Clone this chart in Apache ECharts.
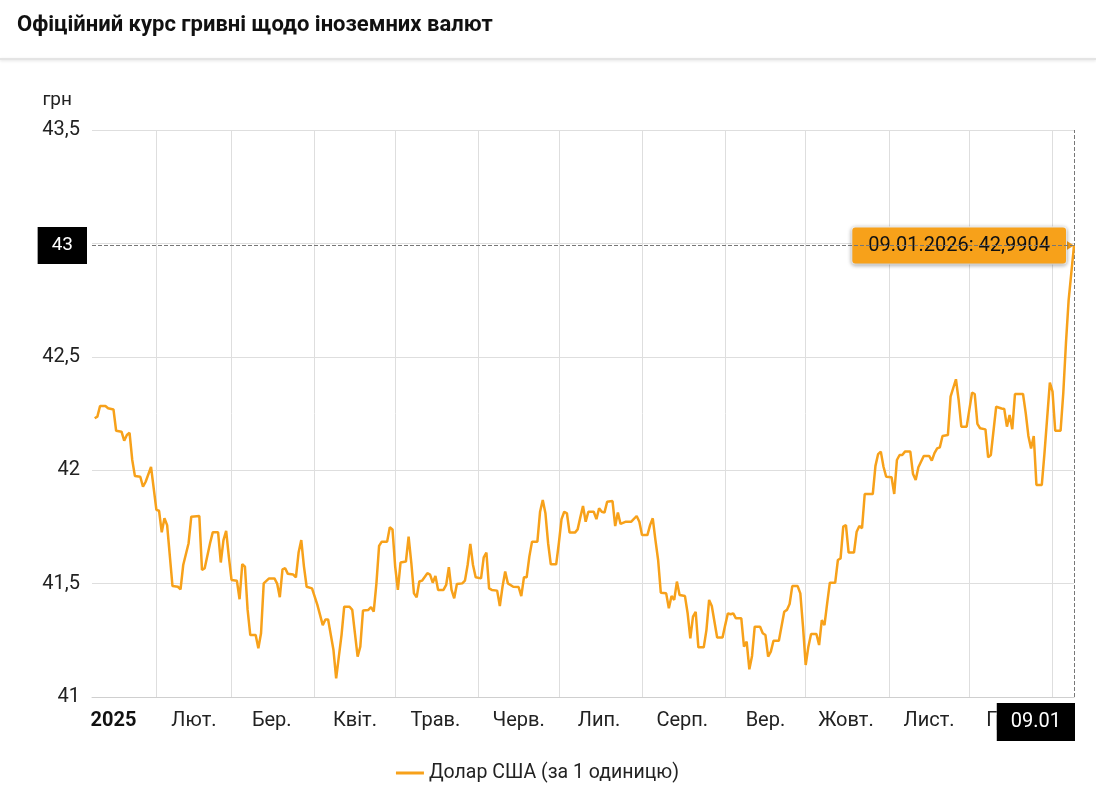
<!DOCTYPE html>
<html><head><meta charset="utf-8">
<script src="https://cdn.jsdelivr.net/npm/echarts@6/dist/echarts.min.js"></script>
<style>
html,body{margin:0;padding:0;background:#fff;}
#sep{position:absolute;left:0;top:58px;width:1096px;height:2px;background:#e4e4e4;box-shadow:0 1px 3px rgba(0,0,0,0.12);}
#chart{position:absolute;left:0;top:0;width:1075px;height:796px;}
</style></head><body>
<div id="sep"></div>
<div id="chart"></div>
<script>
const titleText = 'Офіційний курс гривні щодо іноземних валют';
const seriesName = 'Долар США (за 1 одиницю)';
const unitName = 'грн';
const xMin = '2025-01-08';
const xMax = '2026-01-09';
const yMin = 41, yMax = 43.5, yStep = 0.5;
const monthLabels = ['2025','Лют.','Бер.','Квіт.','Трав.','Черв.','Лип.','Серп.','Вер.','Жовт.','Лист.','Груд.'];
const labelDays = ['2025-01-16','2025-02-15','2025-03-16','2025-04-16','2025-05-16','2025-06-16','2025-07-16','2025-08-16','2025-09-16','2025-10-16','2025-11-16','2025-12-16'];
const monthStarts = ['2025-02-01','2025-03-01','2025-04-01','2025-05-01','2025-06-01','2025-07-01','2025-08-01','2025-09-01','2025-10-01','2025-11-01','2025-12-01','2026-01-01'];

const dates = [
'2025-01-09','2025-01-10','2025-01-11','2025-01-13','2025-01-14','2025-01-16','2025-01-17','2025-01-19','2025-01-20','2025-01-21','2025-01-22','2025-01-23','2025-01-24','2025-01-26','2025-01-27','2025-01-28','2025-01-30',
'2025-02-01','2025-02-02','2025-02-03','2025-02-04','2025-02-05','2025-02-07','2025-02-09','2025-02-10','2025-02-11','2025-02-13','2025-02-14','2025-02-17','2025-02-18','2025-02-19','2025-02-21','2025-02-22','2025-02-24','2025-02-25','2025-02-26','2025-02-27','2025-02-28',
'2025-03-01','2025-03-03','2025-03-04','2025-03-05','2025-03-06','2025-03-07','2025-03-08','2025-03-10','2025-03-11','2025-03-12','2025-03-13','2025-03-15','2025-03-17','2025-03-18','2025-03-19','2025-03-20','2025-03-21','2025-03-22','2025-03-24','2025-03-25','2025-03-26','2025-03-27','2025-03-28','2025-03-29','2025-03-31',
'2025-04-02','2025-04-04','2025-04-05','2025-04-06','2025-04-08','2025-04-09','2025-04-10','2025-04-11','2025-04-12','2025-04-14','2025-04-15','2025-04-16','2025-04-17','2025-04-18','2025-04-19','2025-04-21','2025-04-22','2025-04-23','2025-04-24','2025-04-25','2025-04-26','2025-04-28','2025-04-29','2025-04-30',
'2025-05-01','2025-05-02','2025-05-03','2025-05-05','2025-05-06','2025-05-07','2025-05-08','2025-05-09','2025-05-10','2025-05-11','2025-05-13','2025-05-14','2025-05-15','2025-05-16','2025-05-17','2025-05-19','2025-05-20','2025-05-21','2025-05-22','2025-05-23','2025-05-24','2025-05-26','2025-05-27','2025-05-28','2025-05-29','2025-05-30','2025-05-31',
'2025-06-02','2025-06-03','2025-06-04','2025-06-05','2025-06-06','2025-06-08','2025-06-09','2025-06-10','2025-06-11','2025-06-12','2025-06-14','2025-06-16','2025-06-17','2025-06-18','2025-06-19','2025-06-20','2025-06-21','2025-06-23','2025-06-24','2025-06-25','2025-06-26','2025-06-27','2025-06-28','2025-06-30',
'2025-07-01','2025-07-02','2025-07-03','2025-07-04','2025-07-05','2025-07-07','2025-07-08','2025-07-09','2025-07-10','2025-07-11','2025-07-12','2025-07-14','2025-07-15','2025-07-16','2025-07-17','2025-07-18','2025-07-19','2025-07-21','2025-07-22','2025-07-23','2025-07-24','2025-07-26','2025-07-28','2025-07-30','2025-07-31',
'2025-08-01','2025-08-03','2025-08-04','2025-08-05','2025-08-06','2025-08-07','2025-08-08','2025-08-10','2025-08-11','2025-08-12','2025-08-13','2025-08-14','2025-08-15','2025-08-17','2025-08-18','2025-08-19','2025-08-20','2025-08-21','2025-08-22','2025-08-24','2025-08-25','2025-08-26','2025-08-27','2025-08-29','2025-08-31',
'2025-09-01','2025-09-02','2025-09-03','2025-09-04','2025-09-05','2025-09-07','2025-09-08','2025-09-09','2025-09-10','2025-09-11','2025-09-12','2025-09-14','2025-09-15','2025-09-16','2025-09-17','2025-09-18','2025-09-19','2025-09-21','2025-09-23','2025-09-24','2025-09-25','2025-09-26','2025-09-28','2025-09-29','2025-09-30',
'2025-10-01','2025-10-02','2025-10-03','2025-10-05','2025-10-06','2025-10-07','2025-10-08','2025-10-09','2025-10-10','2025-10-12','2025-10-13','2025-10-14','2025-10-15','2025-10-16','2025-10-17','2025-10-19','2025-10-20','2025-10-21','2025-10-22','2025-10-23','2025-10-26','2025-10-27','2025-10-28','2025-10-29','2025-10-30','2025-10-31',
'2025-11-02','2025-11-03','2025-11-04','2025-11-05','2025-11-06','2025-11-07','2025-11-09','2025-11-10','2025-11-11','2025-11-12','2025-11-14','2025-11-16','2025-11-17','2025-11-18','2025-11-19','2025-11-20','2025-11-21','2025-11-23','2025-11-24','2025-11-26','2025-11-27','2025-11-28','2025-11-30',
'2025-12-02','2025-12-03','2025-12-04','2025-12-05','2025-12-07','2025-12-08','2025-12-09','2025-12-11','2025-12-13','2025-12-14','2025-12-15','2025-12-16','2025-12-17','2025-12-18','2025-12-21','2025-12-22','2025-12-23','2025-12-24','2025-12-25','2025-12-26','2025-12-28','2025-12-29','2025-12-31',
'2026-01-01','2026-01-02','2026-01-04','2026-01-05','2026-01-06','2026-01-07','2026-01-08','2026-01-09'
];
const usd = [
42.229,42.236,42.283,42.283,42.273,42.268,42.174,42.170,42.130,42.155,42.165,42.045,41.974,41.971,41.927,41.949,42.015,
41.825,41.821,41.726,41.788,41.758,41.489,41.486,41.475,41.582,41.678,41.795,41.798,41.560,41.568,41.678,41.726,41.726,41.593,41.692,41.733,41.619,
41.516,41.513,41.431,41.586,41.575,41.384,41.273,41.273,41.215,41.281,41.501,41.523,41.523,41.500,41.440,41.563,41.568,41.543,41.540,41.528,41.637,41.692,41.575,41.486,41.479,
41.406,41.317,41.342,41.342,41.207,41.082,41.178,41.273,41.398,41.398,41.384,41.281,41.178,41.222,41.381,41.384,41.396,41.376,41.500,41.666,41.685,41.685,41.748,41.739,
41.575,41.472,41.593,41.597,41.707,41.593,41.457,41.440,41.509,41.513,41.546,41.540,41.504,41.534,41.472,41.472,41.494,41.572,41.472,41.435,41.498,41.501,41.513,41.582,41.675,41.582,41.528,
41.523,41.616,41.637,41.479,41.472,41.469,41.401,41.486,41.553,41.501,41.486,41.485,41.445,41.528,41.528,41.619,41.685,41.685,41.817,41.869,41.810,41.678,41.585,41.585,
41.678,41.784,41.817,41.810,41.725,41.725,41.739,41.792,41.842,41.773,41.817,41.817,41.784,41.832,41.817,41.813,41.861,41.864,41.754,41.813,41.763,41.773,41.773,41.798,41.773,
41.714,41.714,41.758,41.788,41.692,41.604,41.460,41.457,41.391,41.445,41.428,41.509,41.450,41.445,41.369,41.259,41.354,41.376,41.219,41.219,41.295,41.428,41.401,41.262,41.262,
41.317,41.369,41.365,41.369,41.347,41.347,41.222,41.244,41.122,41.181,41.310,41.310,41.281,41.273,41.178,41.200,41.248,41.248,41.376,41.384,41.410,41.489,41.489,41.457,41.310,
41.141,41.222,41.278,41.278,41.229,41.339,41.317,41.413,41.504,41.504,41.604,41.611,41.751,41.758,41.637,41.637,41.729,41.754,41.744,41.895,41.895,42.019,42.071,42.082,42.015,41.971,
41.969,41.895,42.045,42.067,42.067,42.082,42.082,41.983,41.957,42.013,42.063,42.063,42.042,42.075,42.096,42.101,42.151,42.155,42.324,42.401,42.310,42.192,42.192,
42.342,42.336,42.204,42.185,42.180,42.057,42.067,42.280,42.272,42.270,42.192,42.243,42.181,42.336,42.336,42.253,42.151,42.096,42.151,41.935,41.935,42.075,42.386,
42.346,42.174,42.174,42.339,42.560,42.750,42.870,42.9904
];

const FONT = 'Roboto, "Noto Sans", sans-serif';
const ORANGE = '#F7A11A';
const ts = s => echarts.number.parseDate(s).getTime();
const pad = n => (n < 10 ? '0' : '') + n;
const fmtNum = v => String(v).replace('.', ',');
const fmtDM = t => { const d = new Date(t); return pad(d.getDate()) + '.' + pad(d.getMonth() + 1); };
const fmtDMY = t => { const d = new Date(t); return pad(d.getDate()) + '.' + pad(d.getMonth() + 1) + '.' + d.getFullYear(); };
const lastIdx = dates.length - 1;
const labelTs = labelDays.map(ts);

const chart = echarts.init(document.getElementById('chart'), null, {renderer: 'canvas'});
chart.setOption({
  animation: false,
  title: {
    text: titleText, left: 12, top: 9,
    textStyle: {fontFamily: FONT, fontSize: 22, fontWeight: 'bold', color: '#111'}
  },
  grid: {left: 92, right: 1, top: 130, bottom: 99},
  legend: {
    bottom: 8, icon: 'rect', itemWidth: 28, itemHeight: 3, itemGap: 8,
    textStyle: {fontFamily: FONT, fontSize: 19.5, color: '#222'},
    data: [seriesName]
  },
  xAxis: {
    type: 'value', min: ts(xMin), max: ts(xMax), scale: true,
    axisLine: {lineStyle: {color: '#cfcfcf'}},
    axisTick: {show: false, customValues: monthStarts.map(ts)},
    splitLine: {show: true, lineStyle: {color: '#dedede'}},
    axisLabel: {
      customValues: labelTs, margin: 14, fontSize: 20, color: '#222', fontFamily: FONT,
      formatter: v => { const i = labelTs.indexOf(v); return i === 0 ? '{b|' + monthLabels[0] + '}' : (monthLabels[i] || ''); },
      rich: {b: {fontWeight: 'bold', fontSize: 20, fontFamily: FONT, color: '#111'}}
    },
    axisPointer: {
      show: true, status: 'show', value: ts(dates[lastIdx]), type: 'line', snap: false, triggerTooltip: false,
      lineStyle: {color: '#777', type: 'dashed', width: 1},
      label: {show: true, formatter: p => fmtDM(p.value), backgroundColor: '#000', color: '#fff',
        fontSize: 20, fontFamily: FONT, padding: [9, 14, 9, 14], margin: 6, borderRadius: 0}
    }
  },
  yAxis: {
    type: 'value', min: yMin, max: yMax, interval: yStep,
    name: unitName, nameLocation: 'end', nameGap: 20,
    nameTextStyle: {align: 'right', padding: [0, 20, 0, 0], fontSize: 19, color: '#222', fontFamily: FONT},
    axisLine: {show: false}, axisTick: {show: false},
    splitLine: {lineStyle: {color: '#dedede'}},
    axisLabel: {formatter: v => fmtNum(v), fontSize: 20, color: '#222', margin: 12, fontFamily: FONT},
    axisPointer: {
      show: true, status: 'show', value: usd[lastIdx], type: 'line', snap: false, triggerTooltip: false,
      lineStyle: {color: '#777', type: 'dashed', width: 1},
      label: {show: true, formatter: p => fmtNum(Math.round(p.value * 10) / 10), backgroundColor: '#000', color: '#fff',
        fontSize: 19, fontFamily: FONT, padding: [9, 14, 9, 14], margin: 5, borderRadius: 0}
    }
  },
  series: [{
    name: seriesName, type: 'line', z: 60,
    data: dates.map((d, i) => [ts(d), usd[i]]),
    showSymbol: false, symbol: 'none',
    lineStyle: {color: ORANGE, width: 2.5},
    itemStyle: {color: ORANGE},
    markPoint: {
      silent: true, symbol: 'triangle', symbolSize: [10, 8], symbolRotate: -90, symbolOffset: [-4, 0],
      itemStyle: {color: ORANGE},
      data: [{type: 'max'}],
      label: {
        show: true, position: 'left', distance: 0,
        formatter: () => fmtDMY(ts(dates[lastIdx])) + ': ' + fmtNum(usd[lastIdx]),
        backgroundColor: ORANGE, color: '#111', fontSize: 20, fontFamily: FONT,
        padding: [8, 16, 8, 16], borderRadius: 3, borderColor: '#fff', borderWidth: 1,
        shadowBlur: 4, shadowColor: 'rgba(0,0,0,0.3)', shadowOffsetY: 1
      }
    }
  }]
});
</script></body></html>
